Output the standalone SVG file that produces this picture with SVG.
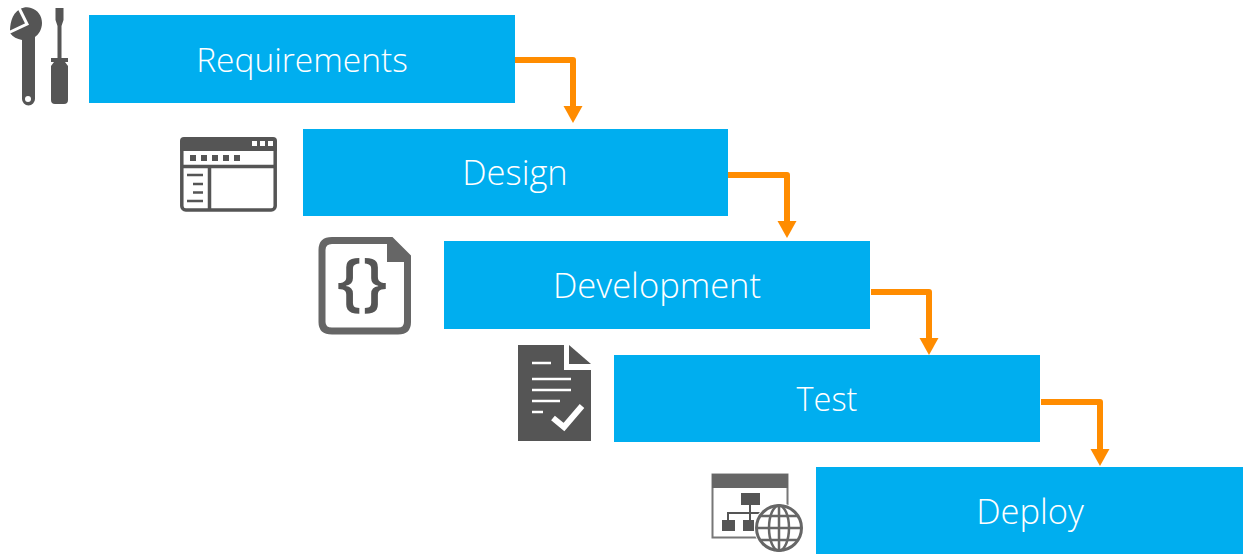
<svg xmlns="http://www.w3.org/2000/svg" width="1244" height="557" viewBox="0 0 1244 557">
<style>
.box{fill:#00aeef}
.lbl{fill:#fff;font-family:"Open Sans","Noto Sans",sans-serif;font-weight:300;font-size:34.500px;text-anchor:middle}
.c{fill:none;stroke:#ff8c00;stroke-width:6;stroke-linejoin:round}
.d{fill:#555}
.ln{stroke:#555;fill:none}
.w{fill:#fff}
</style>
<defs><marker id="arr" markerUnits="userSpaceOnUse" markerWidth="18" markerHeight="20" refX="0" refY="9.500" orient="auto"><path d="M0 0L17 9.500L0 19Z" fill="#ff8c00"/></marker></defs>
<rect width="1244" height="557" fill="#fff"/>
<g id="connectors">
<path class="c" marker-end="url(#arr)" d="M515 60H573V106"/>
<path class="c" marker-end="url(#arr)" d="M728 175H787V221"/>
<path class="c" marker-end="url(#arr)" d="M871 292H929V338"/>
<path class="c" marker-end="url(#arr)" d="M1041 402H1100V449"/>
</g>
<g id="requirements"><rect class="box" x="89" y="15" width="426" height="88"/><text class="lbl" x="302" y="72" style="font-size:33.500px">Requirements</text>
<g class="icon">
<path class="d" d="M20 9C24 7 28 7 31 8C38 10 42 16 42 23C42 30 38 35 35 37V99A6.500 6.500 0 0 1 22 99V40C17 39 13 37 10 33C10 25 11 14 20 9Z"/>
<path fill="none" stroke="#fff" stroke-width="3" d="M19 8L27 24L8 33"/>
<circle class="w" cx="28" cy="99" r="3"/>
<path class="d" d="M55.500 8H63.500V20L61.500 26V58H68V62H65L68 66V100Q68 104 64 104H55Q51 104 51 100V66L54 62H51V58H57.500V26L55.500 20Z"/>
</g></g>
<g id="design"><rect class="box" x="303" y="129" width="425" height="87"/><text class="lbl" x="515" y="185">Design</text>
<g class="icon">
<rect class="ln" x="181.800" y="139" width="93.400" height="71" rx="4" stroke-width="3.500"/>
<path class="d" d="M184 137H273Q277 137 277 141V151H180V141Q180 137 184 137Z"/>
<path class="ln" stroke-width="3.500" d="M183 166.500H275M209.500 167V210"/>
<rect class="w" x="252" y="141" width="5" height="5"/><rect class="w" x="260" y="141" width="5" height="5"/><rect class="w" x="268" y="141" width="5" height="5"/>
<path class="ln" stroke-width="6" stroke-dasharray="6 5" d="M190 158H240"/>
<path class="ln" stroke-width="2.500" d="M187 175H203M193 184H203M193 192.500H203M187 201H203"/>
</g></g>
<g id="development"><rect class="box" x="444" y="241" width="426" height="88"/><text class="lbl" x="657" y="298">Development</text>
<g class="icon">
<path d="M332 240.500H391L407.500 257V322Q407.500 331 398 331H332Q322 331 322 322V250Q322 240.500 332 240.500Z" fill="#fff" stroke="#666" stroke-width="7"/>
<path fill="#666" d="M387 240H392L411 259V262H387Z"/>
<text x="362.500" y="303" font-family="'Open Sans',sans-serif" font-weight="600" font-size="64" letter-spacing="1" fill="#555" text-anchor="middle">{}</text>
</g></g>
<g id="test"><rect class="box" x="614" y="355" width="426" height="87"/><text class="lbl" x="827" y="411" style="font-size:32.500px">Test</text>
<g class="icon">
<path class="d" d="M518 345H564V370H591V441H518Z"/>
<path class="d" d="M569 345L591 364H569Z"/>
<path stroke="#fff" stroke-width="2.500" fill="none" d="M532 363H551M532 379H571M532 390H571M532 401H560M532 412H543"/>
<path stroke="#fff" stroke-width="6" fill="none" d="M553 418L564 427L582 406"/>
</g></g>
<g id="deploy"><rect class="box" x="816" y="467" width="427" height="87"/><text class="lbl" x="1030" y="524">Deploy</text>
<g class="icon">
<rect x="712.500" y="474.500" width="75" height="63" fill="#fff" stroke="#777" stroke-width="2"/>
<rect x="712" y="474" width="76" height="14" fill="#666"/>
<rect class="d" x="741" y="493" width="19" height="12"/><rect class="d" x="722" y="520" width="13" height="11"/><rect class="d" x="743" y="520" width="11" height="11"/>
<path class="ln" stroke-width="2" d="M750 505V520M728 520V513H765"/>
<circle cx="779" cy="528" r="25" fill="#fff"/>
<circle cx="779" cy="528" r="22.500" fill="#fff" stroke="#666" stroke-width="3"/>
<ellipse cx="779" cy="528" rx="10" ry="22.500" fill="none" stroke="#666" stroke-width="2.500"/>
<path fill="none" stroke="#666" stroke-width="2.500" d="M779 506V550M757 528H801M761 516H797M761 540H797"/>
</g></g>
</svg>
